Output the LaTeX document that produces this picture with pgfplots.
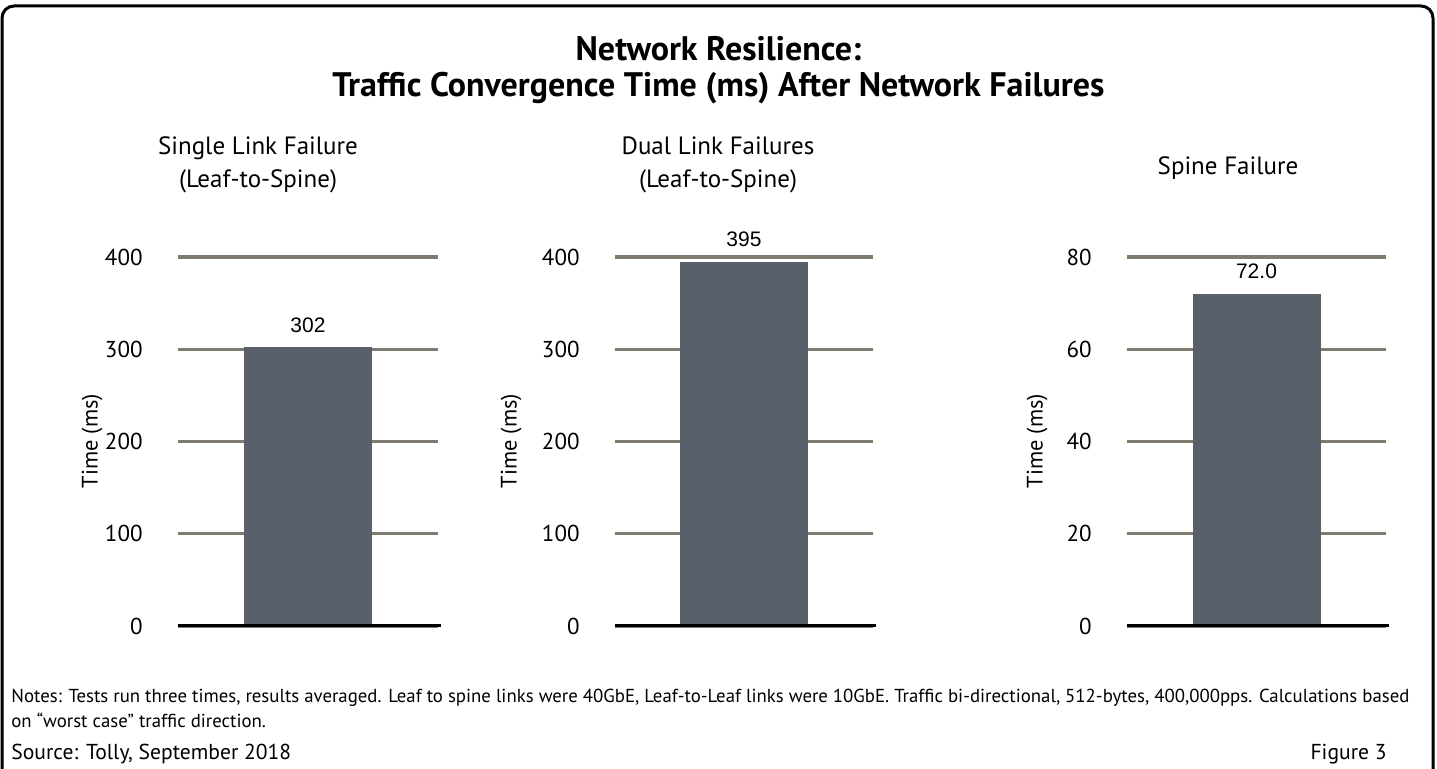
\documentclass[border=0pt]{standalone}
\usepackage{fontspec}
\setmainfont{PT Sans}
\newfontfamily\arial{Liberation Sans}
\usepackage{pgfplots}
\pgfplotsset{compat=1.18}
\definecolor{gridc}{RGB}{127,123,110}
\definecolor{barc}{RGB}{89,96,106}
\pgfplotsset{
 panel/.style={
  scale only axis, height=184.5pt, anchor=south west,
  ymin=0, xmin=-1, xmax=1, xtick=\empty,
  axis line style={draw=none}, major tick length=0pt,
  ymajorgrids, grid style={gridc, line width=1.6pt},
  yticklabel style={font=\fontsize{11.5}{14}\selectfont, inner sep=0pt, xshift=-17.5pt, anchor=east},
  /pgf/number format/assume math mode=true,
  ybar, bar width=64pt, clip=false,
  nodes near coords,
  every node near coord/.append style={font=\arial\fontsize{10.5}{12}\selectfont, anchor=base, yshift=7.5pt, black},
 }
}
\begin{document}
\begin{tikzpicture}
\useasboundingbox (0,0) rectangle (718.5pt,384.5pt);
\draw[line width=1.5pt, rounded corners=6pt] (1pt,-5pt) -- (1pt,381.5pt) -- (716.5pt,381.5pt) -- (716.5pt,-5pt);
% titles
\node[anchor=base, font=\bfseries\fontsize{17}{19}\selectfont] at (359.25pt,354pt) {Network Resilience:};
\node[anchor=base, font=\bfseries\fontsize{17}{19}\selectfont] at (359.25pt,336pt) {Traffic Convergence Time (ms) After Network Failures};
% panel titles
\node[anchor=base, font=\fontsize{12.5}{14}\selectfont] at (129pt,307pt) {Single Link Failure};
\node[anchor=base, font=\fontsize{12.5}{14}\selectfont] at (129pt,290.5pt) {(Leaf-to-Spine)};
\node[anchor=base, font=\fontsize{12.5}{14}\selectfont] at (359pt,307pt) {Dual Link Failures};
\node[anchor=base, font=\fontsize{12.5}{14}\selectfont] at (359pt,290.5pt) {(Leaf-to-Spine)};
\node[anchor=base, font=\fontsize{12.5}{14}\selectfont] at (614pt,297pt) {Spine Failure};
% y labels
\node[rotate=90, font=\fontsize{11.2}{14}\selectfont] at (46pt,164pt) {Time (ms)};
\node[rotate=90, font=\fontsize{11.2}{14}\selectfont] at (255.5pt,164pt) {Time (ms)};
\node[rotate=90, font=\fontsize{11.2}{14}\selectfont] at (518.5pt,164pt) {Time (ms)};

\begin{axis}[panel, at={(89pt,71.5pt)}, width=130pt, ymax=400, ytick={0,100,200,300,400}]
\addplot[fill=barc, draw=none] coordinates {(0,302)};
\draw[black, line width=1.5pt] (axis cs:-1,0) -- (axis cs:1.02,0);
\end{axis}
\begin{axis}[panel, at={(307.5pt,71.5pt)}, width=129pt, ymax=400, ytick={0,100,200,300,400}]
\addplot[fill=barc, draw=none] coordinates {(0,395)};
\draw[black, line width=1.5pt] (axis cs:-1,0) -- (axis cs:1.02,0);
\end{axis}
\begin{axis}[panel, at={(563.5pt,71.5pt)}, width=129.5pt, ymax=80, ytick={0,20,40,60,80},
  nodes near coords={\pgfmathprintnumber[fixed,precision=1,zerofill]{\pgfplotspointmeta}}]
\addplot[fill=barc, draw=none] coordinates {(0,72.0)};
\draw[black, line width=1.5pt] (axis cs:-1,0) -- (axis cs:1.02,0);
\end{axis}

% notes
\node[anchor=base west, inner sep=0pt, font=\fontsize{9.4}{12.5}\selectfont] at (5.5pt,33pt) {Notes: Tests run three times, results averaged. Leaf to spine links were 40GbE, Leaf-to-Leaf links were 10GbE. Traffic bi-directional, 512-bytes, 400,000pps. Calculations based};
\node[anchor=base west, inner sep=0pt, font=\fontsize{9.4}{12.5}\selectfont] at (5.5pt,20.5pt) {on “worst case” traffic direction.};
\node[anchor=base west, inner sep=0pt, font=\fontsize{10.8}{12.5}\selectfont] at (5.5pt,4.5pt) {Source: Tolly, September 2018};
\node[anchor=base east, inner sep=0pt, font=\fontsize{10.8}{12.5}\selectfont] at (693.5pt,4.5pt) {Figure 3};
\end{tikzpicture}
\end{document}
